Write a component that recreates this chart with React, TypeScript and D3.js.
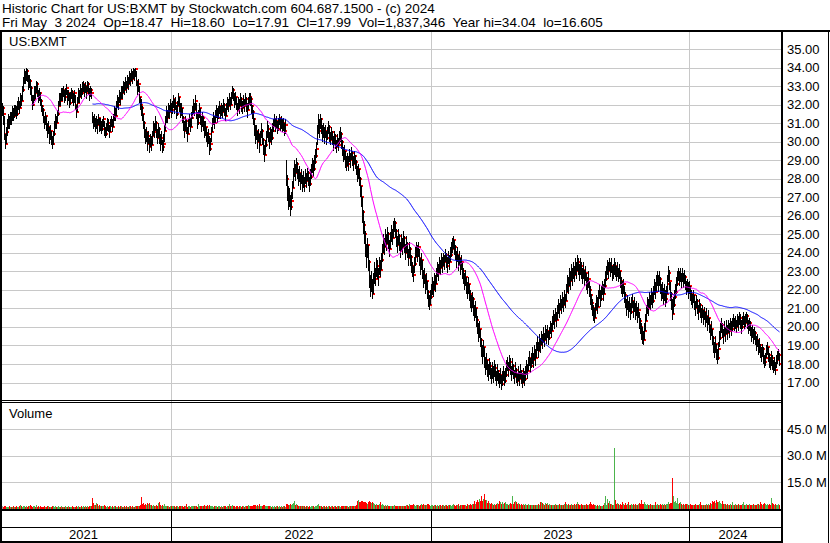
import React from 'react';
import * as d3 from 'd3';

// ---------- data (daily bars, May 2021 .. May 3 2024) ----------
const closes = [
31.8,31.5,30.4,29.9,30.5,30.8,31.2,31.0,31.3,31.2,
31.6,31.4,31.8,31.7,31.5,31.9,32.1,31.8,32.3,32.2,
32.8,33.2,33.6,33.4,33.8,33.5,33.1,33.3,32.9,32.4,
32.0,32.3,32.8,32.6,33.1,32.7,32.4,32.6,32.2,31.9,
31.7,31.3,31.0,31.4,30.9,30.5,30.8,30.2,30.6,30.1,
29.9,30.4,30.8,31.2,31.0,31.5,31.9,32.4,32.2,32.7,
32.5,32.8,32.4,32.6,32.9,32.3,32.6,32.1,32.4,32.7,
32.5,32.2,32.6,32.0,31.6,32.1,32.6,32.4,32.8,32.6,
32.9,33.1,32.7,33.0,32.6,33.1,32.8,32.5,32.8,32.6,
31.3,31.0,31.2,30.8,31.1,30.9,31.3,30.8,31.0,30.7,
30.9,31.2,30.6,30.4,30.7,31.0,30.8,30.5,30.9,31.1,
30.8,31.2,31.6,31.4,31.9,32.2,32.0,32.5,32.3,32.7,
32.6,33.0,32.8,33.2,32.9,33.3,33.1,33.5,33.3,33.6,
33.4,33.8,33.6,33.9,33.3,32.9,33.1,32.4,32.0,31.8,
31.5,31.0,30.6,30.2,30.5,29.9,30.3,29.7,30.1,29.8,
30.3,30.8,30.5,31.0,30.6,30.2,30.7,30.3,29.9,30.2,
29.7,29.9,30.6,31.1,31.5,31.3,31.8,31.6,32.0,31.7,
31.9,32.3,31.8,32.1,31.5,31.9,32.4,32.0,31.6,31.8,
31.3,31.0,30.6,31.1,30.7,30.4,30.9,31.2,30.8,31.3,
31.6,32.0,31.7,32.2,31.5,31.0,31.4,31.8,31.2,30.9,
31.3,31.0,30.5,30.8,30.3,30.0,30.4,29.6,29.9,30.5,
31.0,31.3,31.0,31.4,31.7,31.3,31.6,31.9,31.5,31.8,
31.6,32.0,31.7,31.4,31.8,32.1,31.9,32.3,32.0,32.4,
32.8,32.5,32.1,32.4,32.0,31.7,32.1,31.9,32.3,32.0,
31.8,32.2,31.9,32.3,32.0,31.7,32.1,32.4,32.3,31.9,
31.6,31.2,30.8,30.2,30.6,30.0,30.4,29.8,30.3,30.6,
30.1,29.6,29.3,29.8,30.3,30.7,30.4,30.0,30.5,30.2,
30.6,30.9,31.2,30.8,31.1,30.7,31.0,31.3,30.9,31.1,
30.8,31.0,30.6,30.9,28.0,27.3,26.8,27.0,26.5,26.8,
27.5,28.2,28.6,28.3,28.8,28.4,28.0,28.3,27.8,28.1,
27.7,28.0,27.6,28.2,27.9,28.3,28.0,27.7,28.1,28.4,
28.7,28.5,28.9,29.2,29.6,30.5,31.0,30.6,31.2,30.8,
30.4,30.7,30.3,30.6,30.2,30.5,30.8,30.4,30.1,30.5,
30.2,29.9,30.3,30.0,29.7,30.1,29.8,30.3,30.4,30.0,
29.6,29.2,29.5,29.0,28.7,29.1,28.8,29.3,29.0,29.4,
29.1,28.8,29.2,28.9,28.6,28.2,28.5,28.0,27.6,27.0,
26.2,25.5,25.0,24.3,23.8,24.4,23.5,22.6,22.0,22.5,
21.8,22.4,23.0,22.6,23.3,23.0,22.7,23.4,23.1,23.6,
24.0,24.6,24.3,24.9,24.5,25.0,24.6,24.2,24.7,25.1,
24.8,25.3,25.6,25.2,24.8,24.4,24.9,24.5,24.1,24.6,
24.3,24.8,24.4,24.0,24.5,24.1,23.7,24.2,23.8,23.3,
23.0,22.8,23.4,23.8,24.2,23.9,24.3,23.7,23.2,23.6,
23.0,22.5,22.8,22.2,22.5,21.9,21.5,21.2,21.6,21.9,
22.2,22.0,22.5,22.3,22.8,23.1,22.9,23.4,23.2,23.6,
23.3,23.7,23.5,23.9,23.6,23.3,23.8,23.5,23.9,24.2,
24.5,24.7,24.3,24.0,23.6,23.9,23.4,23.7,23.2,23.5,
23.0,22.8,22.4,22.7,22.2,21.9,22.3,21.8,21.5,21.2,
21.5,21.0,20.7,21.0,20.4,20.0,19.6,19.9,19.3,18.8,
18.5,18.9,18.3,17.8,18.2,17.7,17.5,17.9,17.6,17.3,
17.7,17.4,17.8,17.5,17.2,17.6,17.3,17.0,17.4,16.9,
17.2,17.5,17.1,17.4,17.8,18.0,17.7,18.1,17.8,17.5,
17.9,17.6,17.3,17.7,17.4,17.1,17.5,17.2,17.6,17.3,
17.0,17.4,17.2,17.5,17.8,17.6,18.0,18.3,17.9,18.2,
18.5,18.2,18.6,18.3,18.8,19.1,18.7,19.2,19.0,19.4,
19.2,19.6,19.3,19.7,19.5,19.8,19.4,19.7,20.0,19.8,
20.2,20.5,20.3,20.7,20.4,20.8,21.1,20.9,21.3,21.1,
21.5,21.2,21.6,21.4,21.9,22.4,22.2,22.7,22.5,23.0,
22.7,23.1,22.8,23.3,23.0,23.5,23.2,22.9,23.3,23.0,
22.7,23.1,22.6,22.9,22.4,22.2,22.6,22.0,21.7,21.3,
21.0,20.7,20.5,20.9,21.3,21.1,21.6,21.9,21.5,21.8,
22.1,21.8,22.2,22.6,22.9,23.2,23.0,23.4,23.1,23.3,
22.9,23.0,23.3,23.1,22.9,23.1,22.8,23.0,22.5,22.2,
22.0,22.3,21.7,21.4,21.0,21.3,20.9,21.2,20.8,21.1,
21.4,20.9,21.2,20.8,21.0,20.6,20.9,20.3,20.0,19.7,
19.5,19.3,19.8,20.3,20.8,21.2,21.0,21.5,21.3,21.7,
21.4,21.8,22.2,21.9,22.4,22.7,22.3,22.6,22.2,21.8,
22.0,21.6,21.9,21.5,21.8,22.3,22.9,22.5,21.8,21.3,
20.7,21.2,21.6,21.9,22.3,22.6,22.9,22.6,22.8,22.5,
22.8,22.5,22.7,22.4,22.1,22.3,21.9,22.2,21.8,21.6,
21.4,21.7,21.3,21.0,21.4,21.1,20.8,21.2,20.9,20.6,
20.9,20.5,20.8,20.4,20.6,20.2,20.5,20.1,19.7,19.9,
19.4,19.0,18.7,19.1,18.6,18.3,18.8,19.4,19.8,20.1,
19.8,19.5,19.9,19.6,20.0,19.7,20.1,19.8,20.2,19.9,
20.2,20.4,20.1,20.3,20.0,20.4,20.2,20.5,20.3,20.0,
20.3,20.5,20.2,20.4,20.6,20.3,20.0,20.2,19.9,19.6,
19.8,19.5,19.7,19.4,19.1,19.3,18.9,19.0,18.7,18.5,
18.8,18.4,18.1,18.3,18.7,18.9,18.5,18.2,18.0,18.3,
18.1,17.8,18.0,17.7,18.2,18.4,18.5,17.99
];

const highs = [
32.1,31.9,31.4,30.4,30.8,31.2,31.5,31.4,31.6,31.6,
31.9,31.8,32.0,32.0,31.9,32.2,32.4,32.2,32.6,32.5,
33.0,33.5,33.9,33.8,34.0,33.9,33.6,33.6,33.4,33.0,
32.5,32.5,33.0,33.0,33.3,33.2,32.8,32.9,32.7,32.3,
32.0,31.8,31.4,31.6,31.4,31.0,31.1,30.8,30.9,30.6,
30.3,30.6,31.1,31.5,31.4,31.7,32.2,32.6,32.6,32.9,
32.9,33.0,32.8,32.9,33.1,32.8,32.8,32.6,32.7,32.9,
32.8,32.6,32.8,32.5,32.0,32.4,32.9,32.8,33.1,32.9,
33.2,33.3,33.1,33.2,33.0,33.3,33.2,32.9,33.0,32.9,
31.6,31.4,31.5,31.3,31.4,31.2,31.5,31.3,31.3,31.1,
31.2,31.4,31.1,30.8,31.0,31.3,31.2,30.9,31.2,31.4,
31.2,31.5,31.9,31.8,32.2,32.5,32.4,32.8,32.7,33.0,
33.0,33.3,33.2,33.5,33.3,33.6,33.5,33.8,33.7,33.9,
33.8,34.0,33.9,34.0,33.8,33.3,33.4,33.0,32.4,32.3,
31.9,31.5,31.1,30.7,30.8,30.5,30.6,30.2,30.4,30.3,
30.6,31.1,31.0,31.4,31.1,30.7,31.0,30.8,30.4,30.6,
30.1,30.4,30.9,31.4,31.9,31.7,32.1,32.0,32.3,32.1,
32.2,32.5,32.3,32.4,32.0,32.2,32.6,32.4,32.1,32.1,
31.8,31.4,31.1,31.4,31.2,30.8,31.2,31.5,31.3,31.6,
31.9,32.3,32.1,32.5,32.1,31.6,31.7,32.1,31.8,31.4,
31.6,31.4,31.1,31.1,30.8,30.5,30.7,30.3,30.2,30.8,
31.3,31.6,31.4,31.7,32.0,31.8,31.9,32.2,31.9,32.1,
32.0,32.3,32.1,31.8,32.1,32.4,32.3,32.6,32.4,32.7,
33.0,32.9,32.6,32.7,32.4,32.1,32.4,32.3,32.6,32.4,
32.2,32.5,32.3,32.6,32.4,32.1,32.4,32.6,32.6,32.4,
32.0,31.7,31.3,30.9,30.9,30.6,30.7,30.4,30.6,31.0,
30.7,30.2,29.8,30.1,30.6,31.1,30.9,30.5,30.8,30.7,
31.0,31.2,31.5,31.2,31.4,31.1,31.3,31.5,31.3,31.4,
31.2,31.3,31.0,31.2,29.0,28.2,27.6,27.5,27.1,27.3,
27.9,28.6,29.0,28.8,29.1,28.9,28.5,28.7,28.3,28.5,
28.2,28.4,28.1,28.5,28.3,28.6,28.4,28.1,28.5,28.8,
29.1,29.0,29.3,29.6,30.0,30.9,31.5,31.2,31.5,31.3,
30.9,31.0,30.8,30.9,30.6,30.8,31.1,30.9,30.5,30.8,
30.6,30.3,30.6,30.4,30.1,30.4,30.2,30.6,30.8,30.5,
30.1,29.7,29.8,29.5,29.2,29.4,29.2,29.6,29.4,29.7,
29.5,29.2,29.5,29.3,29.0,28.7,28.8,28.5,28.1,27.6,
27.0,26.3,25.7,25.2,24.5,24.8,24.4,23.6,22.8,23.0,
22.6,22.9,23.5,23.2,23.7,23.6,23.2,23.8,23.6,24.0,
24.5,25.0,24.8,25.3,25.0,25.4,25.1,24.7,25.1,25.5,
25.3,25.7,25.9,25.7,25.3,24.9,25.3,25.0,24.6,25.0,
24.8,25.2,24.9,24.5,24.9,24.6,24.2,24.6,24.3,23.9,
23.5,23.3,23.8,24.3,24.6,24.4,24.6,24.2,23.7,24.0,
23.6,23.1,23.2,22.8,22.9,22.5,22.0,21.7,22.0,22.3,
22.7,22.5,22.9,22.8,23.2,23.5,23.4,23.8,23.6,24.0,
23.8,24.0,23.9,24.2,24.0,23.8,24.1,23.9,24.3,24.6,
24.8,24.9,24.7,24.4,24.1,24.3,23.9,24.1,23.7,23.9,
23.5,23.2,22.9,23.1,22.7,22.4,22.7,22.3,22.0,21.7,
21.9,21.6,21.2,21.4,21.0,20.6,20.2,20.3,19.9,19.4,
19.0,19.3,18.9,18.4,18.6,18.2,18.0,18.3,18.1,17.8,
18.1,17.9,18.2,18.0,17.6,18.0,17.7,17.5,17.8,17.4,
17.6,17.9,17.6,17.8,18.2,18.4,18.1,18.5,18.3,17.9,
18.3,18.0,17.7,18.1,17.8,17.5,17.9,17.6,18.0,17.7,
17.5,17.8,17.6,17.9,18.2,18.0,18.4,18.7,18.3,18.6,
18.9,18.6,19.0,18.8,19.2,19.5,19.2,19.6,19.4,19.8,
19.6,20.0,19.7,20.1,19.9,20.1,19.8,20.0,20.3,20.2,
20.6,20.9,20.7,21.0,20.8,21.2,21.5,21.3,21.7,21.5,
21.9,21.6,22.0,21.8,22.3,22.8,22.7,23.2,23.0,23.4,
23.2,23.5,23.3,23.7,23.5,23.9,23.7,23.4,23.7,23.5,
23.2,23.5,23.1,23.3,22.9,22.7,23.0,22.5,22.2,21.8,
21.5,21.2,21.0,21.3,21.7,21.6,22.0,22.3,22.0,22.2,
22.5,22.3,22.6,23.0,23.3,23.6,23.5,23.7,23.5,23.7,
23.3,23.4,23.7,23.5,23.3,23.5,23.2,23.4,23.0,22.7,
22.5,22.6,22.2,21.9,21.5,21.7,21.4,21.6,21.3,21.6,
21.8,21.4,21.6,21.3,21.4,21.1,21.3,20.8,20.5,20.2,
20.0,19.8,20.2,20.7,21.2,21.6,21.5,21.9,21.7,22.1,
21.9,22.2,22.6,22.4,22.8,23.0,22.8,23.0,22.7,22.3,
22.4,22.1,22.3,22.0,22.2,22.8,23.3,23.1,22.4,21.9,
21.5,21.6,22.0,22.3,22.7,23.0,23.2,23.0,23.2,22.9,
23.2,22.9,23.1,22.8,22.5,22.6,22.4,22.5,22.2,22.0,
21.8,22.0,21.7,21.4,21.7,21.5,21.2,21.5,21.3,21.0,
21.2,20.9,21.1,20.8,21.0,20.6,20.9,20.5,20.1,20.3,
19.9,19.5,19.2,19.5,19.1,18.8,19.2,19.8,20.2,20.5,
20.2,19.9,20.3,20.0,20.4,20.1,20.4,20.2,20.5,20.3,
20.5,20.7,20.5,20.6,20.4,20.7,20.6,20.8,20.7,20.4,
20.6,20.8,20.6,20.7,20.8,20.7,20.4,20.5,20.3,20.0,
20.1,19.9,20.0,19.8,19.5,19.6,19.3,19.4,19.1,18.9,
19.1,18.9,18.5,18.6,19.0,19.2,18.9,18.6,18.4,18.7,
18.5,18.2,18.4,18.1,18.5,18.7,18.8,18.6
];

const lows = [
31.4,30.9,30.1,29.6,29.9,30.3,30.7,30.7,30.9,30.9,
31.1,31.1,31.3,31.4,31.2,31.4,31.7,31.5,31.8,31.9,
32.2,32.7,33.1,33.1,33.3,33.2,32.8,32.9,32.5,32.2,
31.7,31.9,32.2,32.3,32.6,32.4,32.1,32.2,31.9,31.6,
31.4,31.0,30.7,30.9,30.6,30.2,30.4,29.9,30.1,29.8,
29.6,29.8,30.3,30.7,30.7,31.0,31.4,31.9,31.9,32.2,
32.2,32.4,32.1,32.2,32.5,32.0,32.2,31.8,32.0,32.3,
32.1,31.9,32.1,31.7,31.3,31.6,32.1,32.1,32.4,32.3,
32.5,32.7,32.4,32.6,32.3,32.7,32.5,32.2,32.4,32.3,
31.0,30.7,30.8,30.5,30.7,30.4,30.9,30.5,30.6,30.4,
30.6,30.8,30.3,30.2,30.3,30.6,30.5,30.2,30.5,30.8,
30.5,30.8,31.1,31.1,31.4,31.8,31.7,32.1,32.0,32.3,
32.3,32.6,32.5,32.8,32.6,32.9,32.8,33.1,33.0,33.3,
33.1,33.4,33.3,33.5,33.0,32.5,32.7,32.1,31.7,31.4,
31.1,30.7,30.2,29.9,30.0,29.5,29.9,29.4,29.7,29.5,
29.8,30.3,30.2,30.6,30.2,29.9,30.2,29.9,29.5,29.8,
29.4,29.5,30.0,30.6,31.0,31.0,31.3,31.2,31.6,31.3,
31.5,31.8,31.5,31.7,31.2,31.4,31.9,31.6,31.3,31.4,
31.0,30.6,30.2,30.6,30.4,30.0,30.4,30.8,30.5,30.8,
31.2,31.5,31.4,31.7,31.2,30.7,30.9,31.3,30.9,30.5,
30.8,30.6,30.2,30.3,30.0,29.7,29.9,29.3,29.5,30.0,
30.5,30.9,30.7,31.0,31.3,31.0,31.2,31.5,31.2,31.4,
31.3,31.6,31.4,31.1,31.4,31.7,31.6,31.9,31.7,32.0,
32.3,32.2,31.8,32.0,31.7,31.4,31.7,31.5,31.9,31.6,
31.5,31.8,31.6,31.9,31.6,31.3,31.7,32.0,31.9,31.5,
31.2,30.9,30.3,29.9,30.1,29.6,30.0,29.4,29.8,30.2,
29.8,29.3,28.9,29.3,29.7,30.2,30.0,29.6,30.0,29.8,
30.1,30.5,30.8,30.5,30.7,30.4,30.6,30.9,30.6,30.7,
30.5,30.6,30.3,30.4,27.6,26.8,26.3,26.5,26.0,26.3,
26.9,27.5,28.1,27.9,28.3,28.0,27.6,27.8,27.4,27.7,
27.3,27.5,27.3,27.7,27.5,27.9,27.6,27.3,27.6,28.0,
28.3,28.1,28.4,28.8,29.1,29.8,30.4,30.2,30.7,30.4,
30.0,30.2,29.9,30.2,29.8,30.1,30.4,30.0,29.8,30.1,
29.8,29.5,29.9,29.6,29.4,29.7,29.5,29.9,30.0,29.6,
29.2,28.9,29.0,28.6,28.4,28.7,28.4,28.9,28.6,29.0,
28.7,28.4,28.8,28.5,28.2,27.8,28.0,27.6,27.0,26.5,
25.6,25.0,24.5,23.8,23.2,23.7,23.0,22.1,21.6,21.9,
21.5,21.8,22.3,22.2,22.7,22.6,22.2,22.8,22.7,23.1,
23.5,24.0,23.9,24.3,24.1,24.5,24.2,23.8,24.2,24.6,
24.4,24.8,25.1,24.8,24.3,24.0,24.4,24.1,23.7,24.1,
23.9,24.3,24.0,23.6,24.0,23.7,23.3,23.7,23.3,22.9,
22.7,22.4,22.9,23.3,23.8,23.5,23.8,23.3,22.8,23.1,
22.6,22.1,22.3,21.8,22.0,21.5,21.1,20.9,21.2,21.5,
21.7,21.6,22.0,21.9,22.3,22.7,22.5,22.9,22.8,23.2,
22.9,23.3,23.1,23.5,23.2,22.9,23.4,23.1,23.5,23.8,
24.0,24.2,23.9,23.6,23.2,23.5,23.0,23.3,22.8,23.1,
22.6,22.3,22.0,22.2,21.8,21.5,21.8,21.4,21.0,20.8,
21.0,20.6,20.3,20.5,20.0,19.6,19.2,19.4,18.9,18.4,
18.0,18.4,17.8,17.4,17.7,17.3,17.1,17.4,17.2,16.9,
17.2,17.0,17.3,17.1,16.8,17.1,16.9,16.7,16.9,16.6,
16.8,17.1,16.8,17.0,17.3,17.6,17.3,17.7,17.4,17.1,
17.4,17.2,16.9,17.3,17.0,16.8,17.1,16.8,17.2,16.9,
16.7,17.0,16.8,17.1,17.4,17.2,17.6,17.9,17.5,17.8,
18.0,17.8,18.2,17.9,18.3,18.7,18.3,18.7,18.6,19.0,
18.8,19.2,18.9,19.3,19.1,19.4,19.0,19.3,19.6,19.4,
19.8,20.1,19.9,20.3,20.0,20.4,20.7,20.5,20.9,20.7,
21.0,20.8,21.2,21.0,21.4,21.9,21.8,22.2,22.0,22.5,
22.2,22.6,22.4,22.8,22.6,23.0,22.8,22.5,22.8,22.6,
22.3,22.6,22.2,22.5,22.0,21.8,22.1,21.6,21.2,20.9,
20.6,20.3,20.2,20.5,20.9,20.7,21.1,21.5,21.1,21.4,
21.7,21.4,21.8,22.1,22.5,22.8,22.6,23.0,22.7,22.9,
22.5,22.6,22.8,22.7,22.5,22.7,22.4,22.6,22.1,21.8,
21.6,21.8,21.3,21.0,20.6,20.9,20.5,20.8,20.4,20.7,
21.0,20.5,20.8,20.4,20.6,20.2,20.5,19.9,19.6,19.3,
19.1,19.0,19.3,19.8,20.3,20.7,20.6,21.0,20.9,21.2,
21.0,21.3,21.7,21.5,21.9,22.2,21.9,22.2,21.8,21.4,
21.5,21.2,21.4,21.1,21.3,21.8,22.4,22.0,21.4,20.9,
20.4,20.7,21.1,21.5,21.8,22.2,22.5,22.2,22.4,22.1,
22.4,22.1,22.3,22.0,21.7,21.9,21.5,21.8,21.4,21.2,
21.0,21.3,20.9,20.6,21.0,20.7,20.4,20.8,20.5,20.2,
20.5,20.1,20.4,20.0,20.2,19.8,20.1,19.7,19.3,19.5,
19.0,18.6,18.3,18.6,18.2,18.0,18.2,18.9,19.3,19.7,
19.4,19.1,19.5,19.2,19.6,19.3,19.7,19.4,19.8,19.5,
19.8,20.0,19.8,19.9,19.7,20.0,19.8,20.1,19.9,19.6,
19.9,20.1,19.9,20.0,20.2,19.9,19.6,19.8,19.5,19.2,
19.4,19.1,19.3,19.0,18.7,18.9,18.5,18.6,18.3,18.1,
18.4,18.0,17.8,17.9,18.3,18.5,18.1,17.8,17.7,17.9,
17.7,17.5,17.6,17.4,17.8,18.0,18.2,17.91
];

// daily volume, millions of shares
const volumes = [
1.2,0.9,1.4,1.6,1.1,0.8,1.0,1.3,0.9,1.1,
1.0,1.2,0.8,1.1,1.3,0.9,1.0,1.2,2.0,1.4,
1.1,1.3,1.5,0.9,1.2,1.0,1.4,1.6,2.2,1.3,
1.0,1.5,1.2,0.9,2.0,1.1,1.4,1.0,1.2,0.8,
1.1,0.9,1.3,1.0,0.8,1.2,1.4,1.0,1.1,0.9,
1.5,1.2,1.0,1.3,0.9,1.1,1.2,0.8,1.0,1.3,
0.9,1.1,0.8,1.2,1.0,0.9,1.3,1.1,0.8,1.0,
1.2,0.9,1.1,0.8,1.5,1.0,1.2,0.9,1.1,1.3,
1.0,1.4,0.9,1.2,1.1,1.6,1.0,1.3,1.2,1.5,
6.0,3.0,2.2,1.8,3.2,2.5,1.6,1.9,1.4,1.2,
1.5,1.2,1.8,1.3,1.1,1.4,1.0,1.2,1.6,1.1,
1.3,1.0,1.2,1.5,0.9,1.1,1.3,1.0,1.2,1.4,
1.0,1.1,1.3,0.9,1.2,1.0,1.1,1.4,1.2,1.0,
1.3,1.1,1.0,1.5,1.2,1.4,1.3,1.6,1.8,6.6,
2.4,3.2,2.0,2.6,1.8,3.2,2.8,3.0,2.2,1.7,
1.5,2.1,1.6,1.3,2.0,1.5,3.0,3.7,2.2,1.6,
1.8,1.4,2.3,1.5,1.2,1.6,1.3,1.1,1.4,1.5,
1.2,1.4,1.3,1.1,1.6,1.2,1.0,1.3,1.5,1.2,
1.4,1.1,1.3,1.2,2.4,1.0,1.3,1.5,1.1,1.2,
1.3,1.5,1.2,1.6,1.4,1.1,2.3,1.3,1.4,1.6,
1.2,1.5,1.7,1.3,1.4,1.8,1.2,1.9,1.5,1.3,
1.4,1.1,1.3,1.5,1.2,1.0,1.3,1.4,1.1,1.2,
1.0,1.3,1.2,1.4,1.1,1.3,1.5,2.6,1.2,1.6,
1.8,1.3,1.4,1.1,1.3,1.2,1.0,1.3,1.4,1.1,
1.2,1.4,1.1,1.3,1.5,1.2,1.8,1.3,1.2,1.5,
1.6,1.9,1.7,2.2,1.5,1.8,1.6,2.4,1.4,1.3,
1.5,1.9,2.1,1.6,1.4,1.3,1.2,1.5,1.3,1.1,
1.2,1.0,1.3,1.1,1.4,1.2,1.0,1.3,1.1,1.2,
1.0,1.3,1.2,1.1,2.6,2.8,2.2,2.0,2.5,1.9,
2.3,3.1,4.0,2.2,2.7,1.8,1.5,1.6,1.3,1.4,
1.2,1.5,1.3,1.1,1.4,1.2,1.0,1.3,1.1,1.4,
1.2,1.3,1.1,1.4,1.5,2.0,2.3,1.6,1.4,1.3,
1.1,1.4,1.2,1.0,1.3,1.1,1.5,1.2,1.0,1.2,
1.3,1.1,1.4,1.2,1.0,1.3,1.2,1.5,1.1,1.3,
1.5,1.2,1.4,1.3,1.6,1.2,1.1,1.4,1.3,1.5,
1.3,1.6,1.2,1.4,1.7,4.4,4.6,3.5,3.8,4.2,
4.0,3.6,3.4,3.9,3.2,2.8,3.6,4.1,3.7,3.0,
3.6,2.9,2.5,2.2,2.4,2.0,1.8,2.6,3.8,2.2,
2.4,1.9,1.6,1.8,1.5,1.7,1.4,1.6,1.3,1.5,
1.6,1.4,1.7,1.3,1.5,1.2,1.4,1.6,1.3,1.5,
1.4,1.6,1.3,1.5,1.8,2.1,1.6,2.3,2.0,1.7,
2.2,2.4,1.9,1.6,2.0,1.8,2.2,1.5,1.9,2.3,
2.0,2.4,1.7,2.1,1.8,2.5,2.3,2.0,1.6,1.8,
1.9,1.5,1.8,2.2,1.6,1.9,1.4,1.7,2.0,1.6,
1.8,2.0,1.5,1.7,2.1,1.6,1.9,1.8,2.2,1.5,
1.7,2.4,1.9,1.6,2.0,1.7,2.3,1.5,1.8,2.1,
1.9,2.2,1.7,2.0,1.6,2.3,1.8,2.1,2.5,2.2,
2.6,2.8,4.0,2.5,3.8,4.6,3.6,5.6,4.4,6.8,
4.2,5.2,8.3,5.0,4.8,3.2,4.0,3.0,2.6,3.2,
2.5,2.2,2.8,2.0,2.4,3.0,2.6,4.2,3.8,2.7,
3.6,2.4,2.9,3.4,2.5,2.8,2.2,2.6,3.0,2.4,
7.3,2.8,3.8,4.0,3.6,2.5,2.9,2.3,2.0,2.6,
2.2,2.6,2.0,2.4,1.8,2.1,2.3,1.9,2.2,1.7,
2.0,1.8,2.2,1.7,2.1,1.9,2.3,2.0,3.4,3.5,
3.0,2.4,2.1,3.0,2.6,3.2,2.0,2.3,1.9,2.2,
1.8,2.1,1.9,2.3,2.0,1.7,2.2,2.4,2.0,1.8,
2.1,1.9,2.3,3.6,2.8,2.2,2.5,2.0,1.8,2.4,
2.2,1.9,2.3,2.0,2.6,3.6,2.4,2.1,1.9,2.3,
2.0,2.2,1.8,2.1,2.4,2.0,1.9,2.6,3.8,2.4,
2.1,2.5,2.0,1.8,1.6,1.9,1.5,1.7,1.4,1.6,
1.5,1.8,3.0,7.3,2.2,5.1,3.2,4.0,2.6,2.4,
2.2,2.0,34.2,5.0,2.8,3.2,2.4,2.0,2.6,2.2,
3.6,2.4,2.2,3.2,2.0,2.6,3.8,2.2,1.9,2.4,
2.1,2.5,2.0,2.3,1.8,2.2,2.6,3.0,2.4,4.6,
2.3,2.8,3.6,2.4,2.0,2.6,2.2,1.9,2.3,2.0,
2.2,1.8,2.1,3.6,2.0,2.4,1.9,2.2,2.5,2.1,
2.4,2.0,2.6,2.2,2.8,2.4,3.8,2.6,3.2,3.0,
17.3,7.0,3.4,4.4,3.0,6.0,2.6,3.0,3.6,2.4,
2.2,2.5,2.0,2.3,2.6,2.7,2.1,1.9,2.4,2.0,
2.2,1.8,2.1,2.3,1.9,2.0,2.2,2.4,3.4,2.1,
1.9,2.2,2.0,1.8,2.3,2.1,2.4,2.0,3.0,2.6,
4.0,3.6,4.4,3.2,4.6,3.8,3.4,4.2,3.0,2.5,
4.4,2.8,2.4,2.6,2.0,2.3,1.9,2.2,2.4,2.1,
3.6,2.2,2.0,2.4,1.8,2.1,2.3,1.9,2.2,2.0,
2.4,3.8,2.2,2.0,2.3,1.9,2.1,2.5,2.2,1.9,
2.1,2.4,2.0,1.8,2.2,2.6,2.3,2.0,3.8,2.4,
2.2,2.6,3.0,2.4,2.0,2.3,2.1,2.5,2.2,6.0,
3.2,2.4,2.1,2.6,2.2,1.9,2.3,1.8
];

const priceTicks = [17, 18, 19, 20, 21, 22, 23, 24, 25, 26, 27, 28, 29, 30, 31, 32, 33, 34, 35];
const volumeTicks = [15, 30, 45];
const yearLabels = ['2021', '2022', '2023', '2024'];
const yearStartIndex = [169, 429, 687];
const headerLine1 = 'Historic Chart for US:BXMT by Stockwatch.com 604.687.1500 - (c) 2024';
const headerLine2 = 'Fri May  3 2024  Op=18.47  Hi=18.60  Lo=17.91  Cl=17.99  Vol=1,837,346  Year hi=34.04  lo=16.605';
const symbol = 'US:BXMT';
const maFastPeriod = 30;
const maSlowPeriod = 91;

// ---------- layout ----------
const W = 830;
const H = 543;
const PLOT_L = 2;
const AXIS_X = 781;
const FONT = "'Liberation Sans', Arial, Helvetica, sans-serif";
const GRID = '#c8c8c8';

function sma(vals: number[], p: number): (number | null)[] {
  return vals.map((_, i) => (i < p - 1 ? null : (d3.mean(vals.slice(i - p + 1, i + 1)) as number)));
}

export default function App() {
  const n = Math.min(closes.length, highs.length, lows.length, volumes.length);
  const x = d3.scaleLinear().domain([0, n]).range([PLOT_L, PLOT_L + n]);
  const y = d3.scaleLinear().domain([18, 35]).range([364, 49]);
  const yv = d3.scaleLinear().domain([0, 60]).range([508.5, 402.5]);

  const cl = closes.slice(0, n);
  const maFast = sma(cl, maFastPeriod);
  const maSlow = sma(cl, maSlowPeriod);
  const lineGen = d3
    .line<number | null>()
    .defined((d) => d != null)
    .x((_, i) => x(i) + 0.5)
    .y((d) => y(d as number));

  const yearX = yearStartIndex.map((i) => Math.round(x(i)));
  const bounds = [0, ...yearX, AXIS_X];

  const bars = [];
  const ticks = [];
  const vols = [];
  for (let i = 0; i < n; i++) {
    const px = Math.round(x(i));
    const vals = [highs[i], lows[i], closes[i]];
    const top = y(d3.max(vals) as number);
    const bot = y(d3.min(vals) as number);
    bars.push(
      <rect key={'b' + i} x={px} y={top} width={1} height={Math.max(1, bot - top)} fill="#000" />
    );
    ticks.push(
      <rect key={'t' + i} x={px + 1} y={y(closes[i]) - 1} width={2} height={2} fill="#ff0000" />
    );
    const prev = i > 0 ? closes[i - 1] : closes[i];
    const col = closes[i] > prev ? '#4cb44c' : closes[i] < prev ? '#ff0000' : '#a0a0a0';
    const vt = yv(volumes[i]);
    vols.push(<rect key={'v' + i} x={px} y={vt} width={1} height={508.7 - vt} fill={col} />);
  }

  return (
    <svg
      width={W}
      height={H}
      viewBox={`0 0 ${W} ${H}`}
      style={{ position: 'absolute', left: 0, top: 0, background: '#fff', fontFamily: FONT }}
    >
      <rect x={0} y={0} width={W} height={H} fill="#fff" />
      {/* header */}
      <text x={2} y={13} fontSize={13.5} fill="#000" style={{ whiteSpace: 'pre' }}>
        {headerLine1}
      </text>
      <text x={2} y={26.5} fontSize={13.5} fill="#000" style={{ whiteSpace: 'pre' }}>
        {headerLine2}
      </text>
      <rect x={0} y={30} width={W} height={2} fill="#000" />

      {/* grids */}
      <g shapeRendering="crispEdges">
        {priceTicks.map((t) => (
          <line key={'pg' + t} x1={PLOT_L} x2={AXIS_X} y1={Math.round(y(t)) + 0.5} y2={Math.round(y(t)) + 0.5} stroke={GRID} />
        ))}
        {yearX.map((xx, k) => (
          <line key={'vg' + k} x1={xx + 0.5} x2={xx + 0.5} y1={32} y2={509} stroke={GRID} />
        ))}
        {volumeTicks.map((t) => (
          <line key={'vgh' + t} x1={PLOT_L} x2={AXIS_X} y1={Math.round(yv(t)) + 0.5} y2={Math.round(yv(t)) + 0.5} stroke={GRID} />
        ))}
      </g>

      <text x={9} y={46} fontSize={13} fill="#000">{symbol}</text>

      {/* price bars: close ticks first, daily high-low bars over them */}
      <g shapeRendering="crispEdges">
        {ticks}
        {bars}
      </g>

      {/* moving averages */}
      <path d={lineGen(maSlow) || ''} fill="none" stroke="#0000ff" strokeWidth={1} />
      <path d={lineGen(maFast) || ''} fill="none" stroke="#ff00ff" strokeWidth={1} />

      {/* price / volume separator */}
      <rect x={0} y={400} width={AXIS_X + 2} height={1} fill="#000" />
      <rect x={0} y={402} width={AXIS_X + 2} height={1} fill="#000" />

      <text x={9} y={418} fontSize={13} fill="#000">Volume</text>

      {/* volume bars */}
      <g shapeRendering="crispEdges">{vols}</g>

      {/* bottom date rows */}
      <rect x={0} y={509} width={AXIS_X + 2} height={2} fill="#000" />
      <rect x={0} y={527} width={AXIS_X + 2} height={1} fill="#000" />
      <rect x={0} y={541} width={AXIS_X + 2} height={2} fill="#000" />
      {yearX.map((xx, k) => (
        <rect key={'yd' + k} x={xx} y={509} width={1} height={33} fill="#000" />
      ))}
      {yearLabels.map((lab, k) => (
        <text
          key={lab}
          x={(bounds[k] + bounds[k + 1]) / 2 - 2}
          y={539}
          fontSize={13}
          textAnchor="middle"
          fill="#000"
        >
          {lab}
        </text>
      ))}

      {/* frame */}
      <rect x={0} y={31} width={2} height={512} fill="#000" />
      <rect x={AXIS_X} y={31} width={2} height={512} fill="#000" />
      <rect x={828} y={31} width={1} height={512} fill="#000" />

      {/* right axis labels */}
      {priceTicks.map((t) => (
        <text key={'pl' + t} x={787} y={y(t) + 4.5} fontSize={13} fill="#000">
          {t.toFixed(2)}
        </text>
      ))}
      {volumeTicks.map((t) => (
        <text key={'vl' + t} x={787} y={yv(t) + 4.5} fontSize={13} fill="#000">
          {t.toFixed(1) + ' M'}
        </text>
      ))}
    </svg>
  );
}
